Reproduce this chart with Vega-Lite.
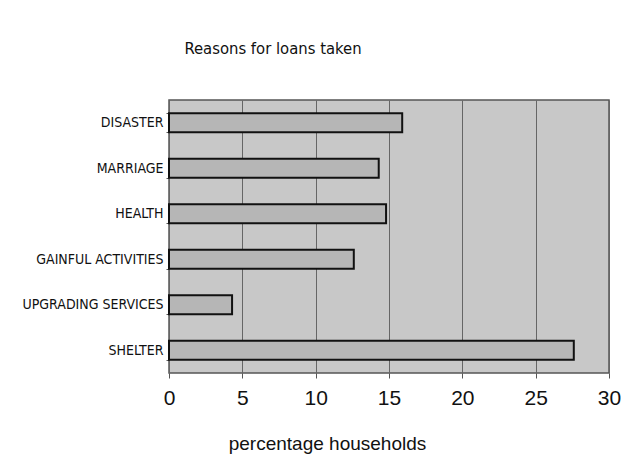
{
  "$schema": "https://vega.github.io/schema/vega-lite/v6.json",
  "autosize": "none",
  "width": 440,
  "height": 273,
  "padding": {"left": 169, "top": 100, "right": 21, "bottom": 83},
  "background": "white",
  "title": {
    "text": "Reasons for loans taken",
    "anchor": "middle",
    "dx": -116,
    "offset": 23,
    "baseline": "alphabetic",
    "font": "DejaVu Sans Condensed, Liberation Sans, sans-serif",
    "fontSize": 16.5,
    "fontWeight": "normal",
    "color": "#111"
  },
  "data": {
    "values": [
      {"reason": "DISASTER", "pct": 15.9},
      {"reason": "MARRIAGE", "pct": 14.3},
      {"reason": "HEALTH", "pct": 14.8},
      {"reason": "GAINFUL ACTIVITIES", "pct": 12.6},
      {"reason": "UPGRADING SERVICES", "pct": 4.3},
      {"reason": "SHELTER", "pct": 27.6}
    ]
  },
  "mark": {"type": "bar", "fill": "#b6b6b6", "stroke": "#111", "strokeWidth": 2},
  "encoding": {
    "y": {
      "field": "reason",
      "type": "nominal",
      "sort": null,
      "scale": {"paddingInner": 0.58, "paddingOuter": 0.29},
      "axis": {
        "title": null,
        "labelFont": "DejaVu Sans Condensed, Liberation Sans, sans-serif",
        "labelFontSize": 14,
        "labelColor": "#111",
        "labelPadding": 3,
        "tickBand": "extent",
        "tickSize": 3,
        "tickColor": "#555",
        "domain": false,
        "grid": false
      }
    },
    "x": {
      "field": "pct",
      "type": "quantitative",
      "scale": {"domain": [0, 30], "nice": false},
      "axis": {
        "title": "percentage households",
        "titleFont": "Liberation Sans",
        "titleFontSize": 19,
        "titleFontWeight": "normal",
        "titleColor": "#111",
        "titleX": 158,
        "titleY": 76,
        "titleBaseline": "alphabetic",
        "values": [0, 5, 10, 15, 20, 25, 30],
        "labelFont": "Liberation Sans",
        "labelFontSize": 21,
        "labelColor": "#111",
        "labelPadding": 9,
        "labelFlush": false,
        "tickSize": 5,
        "tickColor": "#555",
        "domain": false,
        "grid": true,
        "gridColor": "#666",
        "gridWidth": 1
      }
    }
  },
  "config": {
    "view": {"fill": "#c8c8c8", "stroke": "#555", "strokeWidth": 1.5}
  }
}
